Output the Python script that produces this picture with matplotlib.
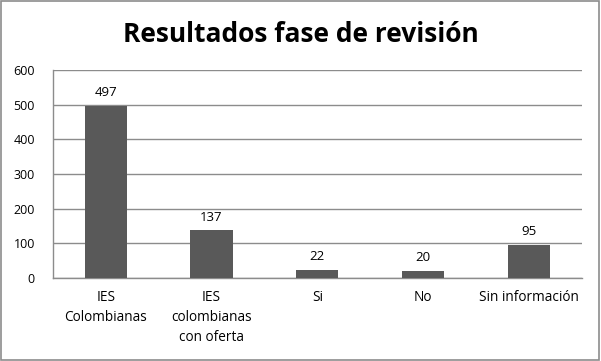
import matplotlib
matplotlib.use("Agg")
import matplotlib.pyplot as plt
from matplotlib.patches import Rectangle

categorias = ["IES\nColombianas", "IES\ncolombianas\ncon oferta", "Si", "No", "Sin información"]
valores = [497, 137, 22, 20, 95]
ticks_y = [0, 100, 200, 300, 400, 500, 600]

plt.rcParams['font.family'] = ['Open Sans', 'DejaVu Sans']

fig = plt.figure(figsize=(6.01, 3.61), dpi=100)
ax = fig.add_axes([0.088, 0.23, 0.88, 0.576])

x = range(len(categorias))
barras = ax.bar(x, valores, width=0.4, color='#595959', zorder=3)

for xi, v in zip(x, valores):
    ax.annotate(str(v), (xi, v), xytext=(0, 5), textcoords='offset points',
                ha='center', va='bottom', fontsize=9.5, color='black')

ax.set_ylim(0, 600)
ax.set_xlim(-0.5, len(categorias) - 0.5)
ax.set_yticks(ticks_y)
ax.set_xticks(list(x))
ax.set_xticklabels(categorias, fontsize=9.8, linespacing=1.45)
ax.tick_params(axis='y', labelsize=9, length=0, pad=13)
ax.tick_params(axis='x', length=0, pad=9)
ax.yaxis.grid(True, color='#8c8c8c', linewidth=1, zorder=0)

for lado in ['top', 'right']:
    ax.spines[lado].set_visible(False)
for lado in ['left', 'bottom']:
    ax.spines[lado].set_color('#8c8c8c')
    ax.spines[lado].set_linewidth(1)

fig.text(0.5, 0.905, 'Resultados fase de revisión', ha='center', va='center',
         fontsize=19, fontweight='bold')

fig.patches.append(Rectangle((0.002, 0.003), 0.995, 0.994, transform=fig.transFigure,
                             fill=False, edgecolor='#8c8c8c', linewidth=1.2))

fig.savefig('out.png', dpi=100)
